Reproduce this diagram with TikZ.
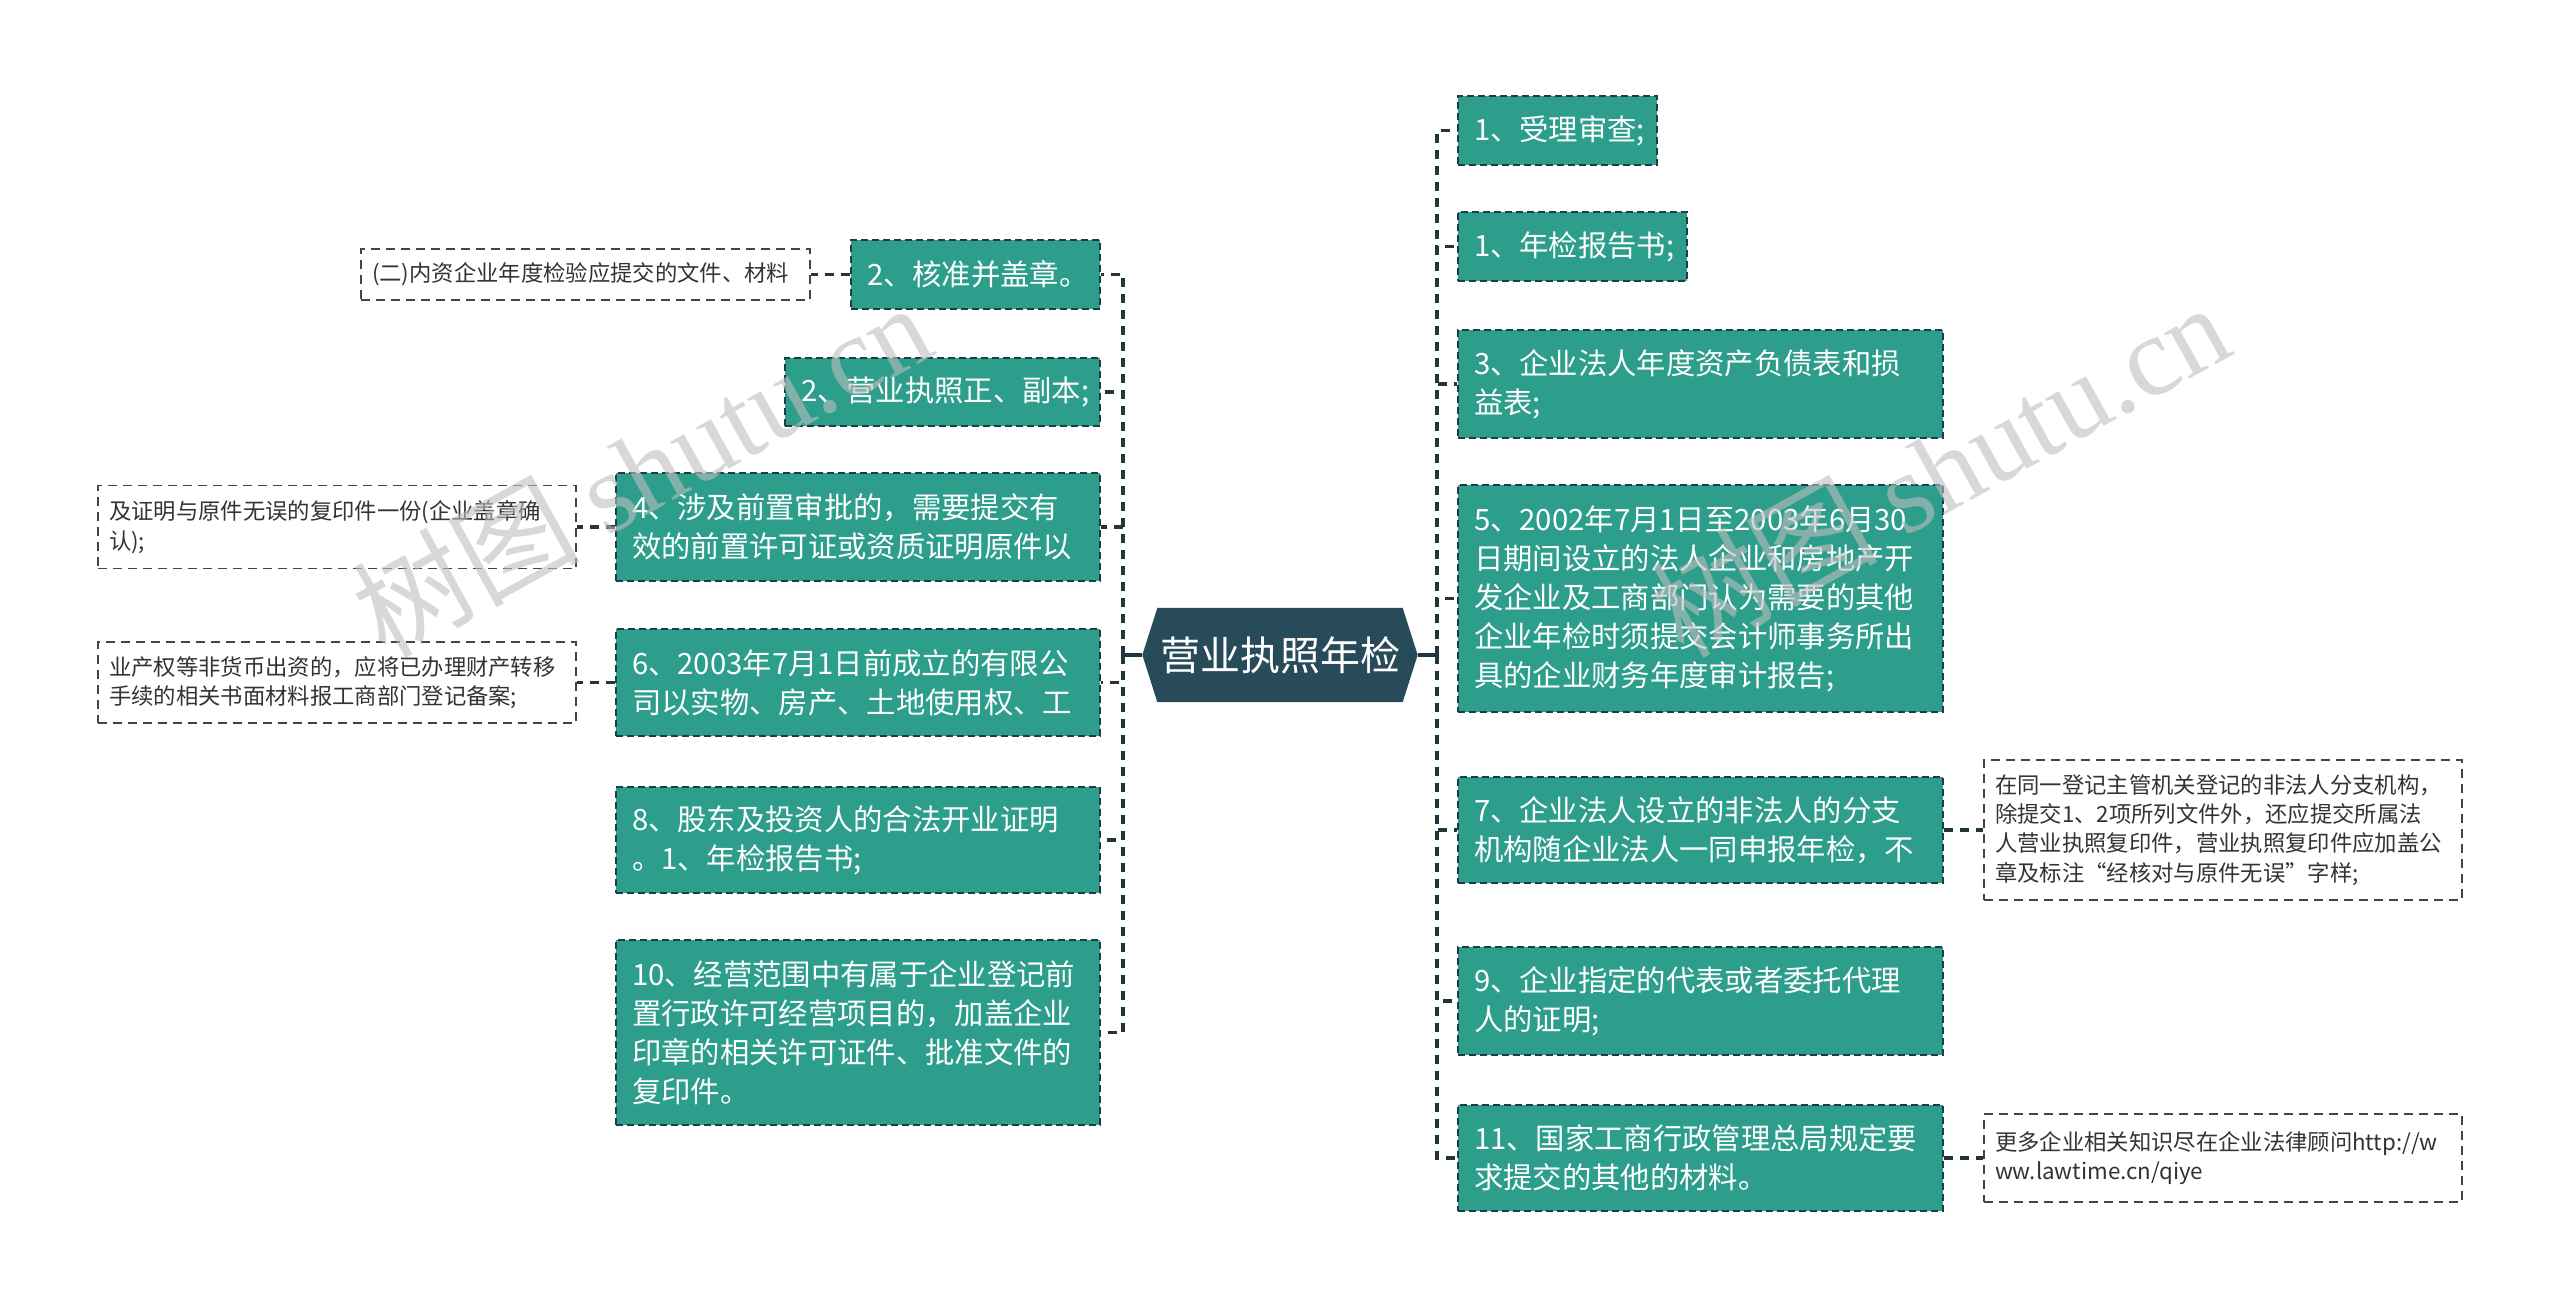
\documentclass[tikz,border=0pt]{standalone}
\usepackage{fontspec}
\setmainfont{Noto Sans CJK SC}
\newfontfamily\wmserif{Liberation Serif}
\usetikzlibrary{calc}
\definecolor{gfill}{HTML}{2C9E8B}
\definecolor{gline}{HTML}{1F3D44}
\definecolor{hexc}{HTML}{284B5A}
\definecolor{cline}{HTML}{22343C}
\definecolor{wline}{HTML}{444444}
\definecolor{wtext}{HTML}{333333}
\definecolor{wmark}{HTML}{BEBEBE}
\tikzset{
  gbox/.style={rectangle, draw=gline, fill=gfill, line width=0.6pt,
    dash pattern=on 2.1pt off 1.2pt, text=white, align=left,
    inner xsep=4.8pt, inner ysep=0pt,
    font=\fontsize{8.8pt}{11.7pt}\selectfont},
  wbox/.style={rectangle, draw=wline, fill=white, line width=0.55pt,
    dash pattern=on 2.7pt off 1.8pt, text=wtext, align=left,
    inner xsep=3.3pt, inner ysep=0pt,
    font=\fontsize{6.7pt}{8.8pt}\selectfont},
  conn/.style={draw=cline, line width=1pt, dash pattern=on 2.7pt off 2.1pt},
  solidconn/.style={draw=cline, line width=1pt},
  ctext/.style={text=white, font=\fontsize{12pt}{14pt}\selectfont},
  wm/.style={text=wmark, opacity=0.6, font=\fontsize{34pt}{40pt}\selectfont}
}
\begin{document}
\begin{tikzpicture}[x=0.3pt, y=-0.3pt]
\fill[white] (0,0) rectangle (2560,1309);
\useasboundingbox (0,0) rectangle (2560,1309);

% central node
\node[rectangle, minimum width=82.2pt, minimum height=27.9pt, inner sep=0pt] (c) at (1280,655) {};
\fill[hexc] (c.west) -- ([xshift=4.5pt]c.north west) -- ([xshift=-4.5pt]c.north east)
  -- (c.east) -- ([xshift=-4.5pt]c.south east) -- ([xshift=4.5pt]c.south west) -- cycle;
\node[ctext] (ct) at (c.center) {营业执照年检};

\coordinate (lb) at (1123,655);
\coordinate (rb) at (1437,655);

% left green nodes
\node[gbox, minimum width=74.7pt, text width=65.1pt, minimum height=20.7pt] (L1) at (975.5,274.5) {2、核准并盖章。};
\node[gbox, minimum width=94.5pt, text width=84.9pt, minimum height=20.4pt] (L2) at (942.5,392) {2、营业执照正、副本;};
\node[gbox, minimum width=145.2pt, text width=135.6pt, minimum height=32.4pt] (L3) at (858,527) {4、涉及前置审批的，需要提交有\\效的前置许可证或资质证明原件以};
\node[gbox, minimum width=145.2pt, text width=135.6pt, minimum height=32.1pt] (L4) at (858,682.5) {6、2003年7月1日前成立的有限公\\司以实物、房产、土地使用权、工};
\node[gbox, minimum width=145.2pt, text width=135.6pt, minimum height=31.8pt] (L5) at (858,840) {8、股东及投资人的合法开业证明\\。1、年检报告书;};
\node[gbox, minimum width=145.2pt, text width=135.6pt, minimum height=55.5pt] (L6) at (858,1032.5) {10、经营范围中有属于企业登记前\\置行政许可经营项目的，加盖企业\\印章的相关许可证件、批准文件的\\复印件。};

% right green nodes
\node[gbox, minimum width=59.7pt, text width=50.1pt, minimum height=20.7pt] (R1) at (1557.5,130.5) {1、受理审查;};
\node[gbox, minimum width=68.7pt, text width=59.1pt, minimum height=20.7pt] (R2) at (1572.5,246.5) {1、年检报告书;};
\node[gbox, minimum width=145.5pt, text width=135.9pt, minimum height=32.4pt] (R3) at (1700.5,384) {3、企业法人年度资产负债表和损\\益表;};
\node[gbox, minimum width=145.5pt, text width=135.9pt, minimum height=68.1pt] (R4) at (1700.5,598.5) {5、2002年7月1日至2003年6月30\\日期间设立的法人企业和房地产开\\发企业及工商部门认为需要的其他\\企业年检时须提交会计师事务所出\\具的企业财务年度审计报告;};
\node[gbox, minimum width=145.5pt, text width=135.9pt, minimum height=31.8pt] (R5) at (1700.5,830) {7、企业法人设立的非法人的分支\\机构随企业法人一同申报年检，不};
\node[gbox, minimum width=145.5pt, text width=135.9pt, minimum height=32.4pt] (R6) at (1700.5,1001) {9、企业指定的代表或者委托代理\\人的证明;};
\node[gbox, minimum width=145.5pt, text width=135.9pt, minimum height=31.8pt] (R7) at (1700.5,1158) {11、国家工商行政管理总局规定要\\求提交的其他的材料。};

% white note nodes
\node[wbox, minimum width=134.7pt, text width=128.1pt, minimum height=15.3pt] (W1) at (585.5,274.5) {(二)内资企业年度检验应提交的文件、材料};
\node[wbox, minimum width=143.4pt, text width=136.8pt, minimum height=24.9pt] (W2) at (337,527) {及证明与原件无误的复印件一份(企业盖章确\\认);};
\node[wbox, minimum width=143.4pt, text width=136.8pt, minimum height=24.3pt] (W3) at (337,682.5) {业产权等非货币出资的，应将已办理财产转移\\手续的相关书面材料报工商部门登记备案;};
\node[wbox, minimum width=143.4pt, text width=136.8pt, minimum height=42pt] (RW1) at (2223,830) {在同一登记主管机关登记的非法人分支机构，\\除提交1、2项所列文件外，还应提交所属法\\人营业执照复印件，营业执照复印件应加盖公\\章及标注“经核对与原件无误”字样;};
\node[wbox, minimum width=143.4pt, text width=136.8pt, minimum height=26.4pt] (RW2) at (2223,1158) {更多企业相关知识尽在企业法律顾问http://w\\ww.lawtime.cn/qiye};

% connectors
\draw[solidconn] (c.west) -- (lb);
\draw[solidconn] (c.east) -- (rb);
\foreach \n in {L1,L2,L3,L4,L5,L6} \draw[conn] (lb) |- (\n.east);
\foreach \n in {R1,R2,R3,R4,R5,R6,R7} \draw[conn] (rb) |- (\n.west);
\draw[conn] (L1.west) -- (L1.west -| W1.east);
\draw[conn] (L3.west) -- (L3.west -| W2.east);
\draw[conn] (L4.west) -- (L4.west -| W3.east);
\draw[conn] (R5.east) -- (R5.east -| RW1.west);
\draw[conn] (R7.east) -- (R7.east -| RW2.west);

% watermarks
\node[wm, anchor=base west, rotate=29, inner sep=0pt] (wm1) at (385,660) {树图 {\wmserif shutu.cn}};
\node[wm, anchor=base west, rotate=29, inner sep=0pt] (wm2) at (1683,660) {树图 {\wmserif shutu.cn}};
\end{tikzpicture}
\end{document}
